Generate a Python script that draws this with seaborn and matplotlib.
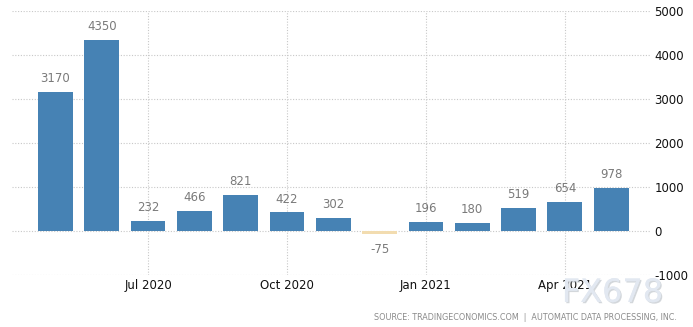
import matplotlib
matplotlib.use("Agg")
import matplotlib.pyplot as plt
import matplotlib.patheffects as pe
import seaborn as sns
import pandas as pd

months = ["May 2020", "Jun 2020", "Jul 2020", "Aug 2020", "Sep 2020", "Oct 2020", "Nov 2020",
          "Dec 2020", "Jan 2021", "Feb 2021", "Mar 2021", "Apr 2021", "May 2021"]
values = [3170, 4350, 232, 466, 821, 422, 302, -75, 196, 180, 519, 654, 978]
tick_labels = ["Jul 2020", "Oct 2020", "Jan 2021", "Apr 2021"]
tick_months = ["Jul 2020", "Oct 2020", "Jan 2021", "Apr 2021"]
y_ticks = [-1000, 0, 1000, 2000, 3000, 4000, 5000]

df = pd.DataFrame({"month": months, "value": values})
colors = ["#4682b4" if v >= 0 else "#f2dcb0" for v in values]

sns.set_style("white")
fig = plt.figure(figsize=(6.93, 3.27), dpi=100)
ax = fig.add_axes([0.018, 0.159, 0.92, 0.807])

sns.barplot(data=df, x="month", y="value", hue="month", palette=colors,
            legend=False, width=0.75, ax=ax, saturation=1, linewidth=0, edgecolor="none")

ax.set_ylim(-1000, 5000)
ax.set_xlim(-0.93, 12.84)
ax.set_yticks(y_ticks)
ax.yaxis.tick_right()
ax.set_yticklabels([str(t) for t in y_ticks], fontsize=8.5, color="#111111")
pos = [months.index(m) for m in tick_months]
ax.set_xticks(pos)
ax.set_xticklabels(tick_labels, fontsize=8.5, color="#111111")
ax.tick_params(axis="both", length=0, pad=3)
ax.set_xlabel("")
ax.set_ylabel("")
for s in ax.spines.values():
    s.set_visible(False)
ax.grid(True, axis="both", linestyle=(0, (1, 1.5)), color="#c8c8c8", linewidth=0.8)
ax.set_axisbelow(True)

for i, v in enumerate(values):
    if v >= 0:
        ax.annotate(str(v), (i, v), xytext=(0, 5), textcoords="offset points",
                    ha="center", va="bottom", fontsize=8.5, color="#7a7a7a")
    else:
        ax.annotate(str(v), (i, v), xytext=(0, -6), textcoords="offset points",
                    ha="center", va="top", fontsize=8.5, color="#7a7a7a")

fig.text(0.977, 0.03, "SOURCE: TRADINGECONOMICS.COM  |  AUTOMATIC DATA PROCESSING, INC.",
         ha="right", va="center", fontsize=5.8, color="#8a8a8a")

fig.text(0.957, 0.103, "FX678", ha="right", va="center", fontsize=23, color="#e2e8f1",
         path_effects=[pe.withSimplePatchShadow(offset=(1.0, -1.0), shadow_rgbFace="#a8b0b8", alpha=0.5), pe.Normal()])

fig.savefig("out.png", dpi=100)
